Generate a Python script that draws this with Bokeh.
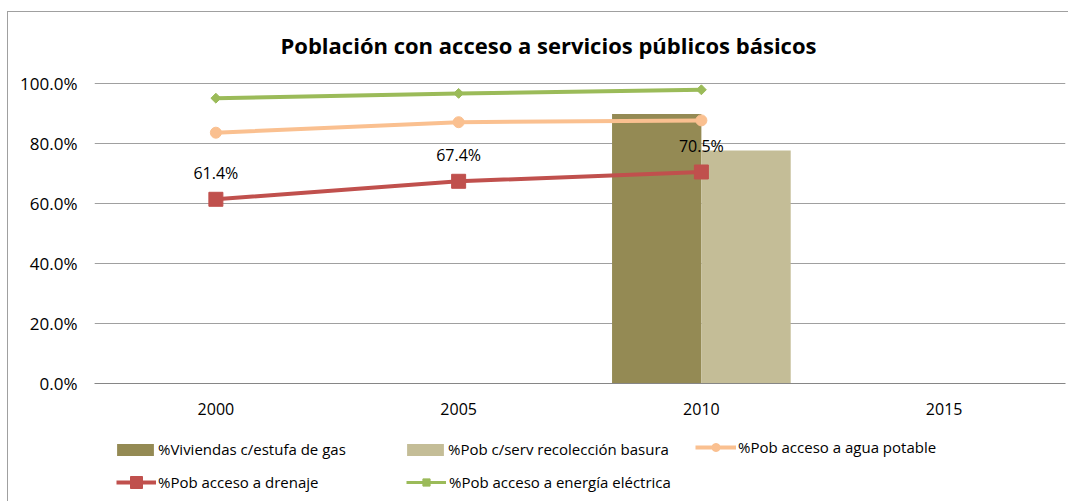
import math
from bokeh.plotting import figure
from bokeh.layouts import column
from bokeh.models import (ColumnDataSource, FactorRange, Range1d, FixedTicker,
                          NumeralTickFormatter, Legend, LegendItem, Title)
from bokeh.transform import dodge
from bokeh.core.properties import value
from bokeh.embed import file_html
from bokeh.resources import INLINE

nan = float("nan")

# ---- data ----
years = ["2000", "2005", "2010", "2015"]
estufa_gas = [nan, nan, 0.898, nan]          # %Viviendas c/estufa de gas
recoleccion_basura = [nan, nan, 0.777, nan]  # %Pob c/serv recolección basura
agua_potable = [0.836, 0.871, 0.877, nan]    # %Pob acceso a agua potable
drenaje = [0.614, 0.674, 0.705, nan]         # %Pob acceso a drenaje
energia_electrica = [0.951, 0.967, 0.979, nan]  # %Pob acceso a energía eléctrica
y_ticks = [0.0, 0.2, 0.4, 0.6, 0.8, 1.0]

names = ["%Viviendas c/estufa de gas", "%Pob c/serv recolección basura",
         "%Pob acceso a agua potable", "%Pob acceso a drenaje",
         "%Pob acceso a energía eléctrica"]
title_text = "Población con acceso a servicios públicos básicos"

drenaje_lbl = ["" if math.isnan(v) else f"{v*100:.1f}%" for v in drenaje]

src = ColumnDataSource(dict(year=years, gas=estufa_gas, basura=recoleccion_basura,
                            agua=agua_potable, dren=drenaje, elec=energia_electrica,
                            lbl=drenaje_lbl))

FONT = "Open Sans"
C_GAS = "#948A54"
C_BAS = "#C4BD97"
C_AGUA = "#FAC090"
C_DREN = "#C0504D"
C_ELEC = "#9BBB59"
GRID = "#a0a0a0"
bw = 0.368
W = 1060


def blank(fig):
    fig.outline_line_color = None
    fig.background_fill_color = "white"
    fig.border_fill_color = "white"


# ---- title strip ----
pt = figure(width=W, height=56, x_range=Range1d(0, 1), y_range=Range1d(0, 1),
            output_backend="svg", toolbar_location=None,
            min_border_left=86, min_border_right=3, min_border_top=0, min_border_bottom=0)
pt.axis.visible = False
pt.grid.visible = False
blank(pt)
pt.add_layout(Title(text=title_text, align="left", text_font=FONT, text_font_size="22px",
                    text_font_style="bold", text_color="#000000", standoff=18,
                    offset=186), "below")

# ---- main chart ----
p = figure(width=W, height=357, x_range=FactorRange(*years), y_range=Range1d(0, 1.0033),
           output_backend="svg", toolbar_location=None,
           min_border_left=86, min_border_right=3, min_border_top=14, min_border_bottom=42)
blank(p)

p.xaxis.axis_line_color = "#868686"
p.xaxis.major_tick_line_color = None
p.xaxis.minor_tick_line_color = None
p.xaxis.major_tick_out = 0
p.xaxis.major_label_standoff = 19
p.xaxis.major_label_text_font = FONT
p.xaxis.major_label_text_font_size = "16px"
p.xaxis.major_label_text_color = "#000000"

p.yaxis.axis_line_color = None
p.yaxis.major_tick_line_color = None
p.yaxis.minor_tick_line_color = None
p.yaxis.major_tick_out = 0
p.yaxis.major_label_standoff = 17
p.yaxis.ticker = FixedTicker(ticks=y_ticks)
p.yaxis.formatter = NumeralTickFormatter(format="0.0%")
p.yaxis.major_label_text_font = FONT
p.yaxis.major_label_text_font_size = "17px"
p.yaxis.major_label_text_color = "#000000"

p.xgrid.grid_line_color = None
p.ygrid.grid_line_color = GRID
p.ygrid.ticker = FixedTicker(ticks=y_ticks)


def draw_series(fig, lw_elec=4):
    r = {}
    r["gas"] = fig.vbar(x=dodge("year", -bw / 2, range=fig.x_range), top="gas", width=bw,
                        source=src, fill_color=C_GAS, line_color=None)
    r["bas"] = fig.vbar(x=dodge("year", bw / 2, range=fig.x_range), top="basura", width=bw,
                        source=src, fill_color=C_BAS, line_color=None)
    r["agua"] = [fig.line("year", "agua", source=src, line_color=C_AGUA, line_width=4),
                 fig.scatter("year", "agua", source=src, marker="circle", size=11,
                             fill_color=C_AGUA, line_color=C_AGUA)]
    r["dren"] = [fig.line("year", "dren", source=src, line_color=C_DREN, line_width=4),
                 fig.scatter("year", "dren", source=src, marker="square", size=14,
                             fill_color=C_DREN, line_color=C_DREN)]
    r["elec"] = [fig.line("year", "elec", source=src, line_color=C_ELEC, line_width=lw_elec),
                 fig.scatter("year", "elec", source=src, marker="square", angle=math.pi / 4,
                             size=7, fill_color=C_ELEC, line_color=C_ELEC)]
    return r


draw_series(p)

p.text(x="year", y="dren", text="lbl", source=src, text_align="center",
       text_baseline="middle", y_offset=-26, text_font=value(FONT),
       text_font_size="16px", text_color="#000000")

# ---- legend strip: same series drawn outside its visible y range, legends only ----
pl = figure(width=W, height=76, x_range=FactorRange(*years), y_range=Range1d(5, 6),
            output_backend="svg", toolbar_location=None,
            min_border_left=86, min_border_right=3, min_border_top=0, min_border_bottom=0)
pl.axis.visible = False
pl.grid.visible = False
blank(pl)

lr = draw_series(pl, lw_elec=3)


def add_legend(label, renderers, loc, gw, gh, standoff):
    lg = Legend(items=[LegendItem(label=label, renderers=renderers)], location=loc,
                orientation="horizontal", padding=0, margin=0, spacing=0,
                glyph_width=gw, glyph_height=gh, label_standoff=standoff,
                label_height=gh, label_text_font=FONT, label_text_font_size="15px",
                label_text_color="#000000", border_line_color=None,
                background_fill_alpha=0)
    pl.add_layout(lg, "center")


add_legend(names[0], [lr["gas"]], (18, 42), 46, 15, 0)
add_legend(names[1], [lr["bas"]], (308, 42), 46, 15, 0)
add_legend(names[2], lr["agua"], (601, 44), 41, 20, 2)
add_legend(names[3], lr["dren"], (22, 4), 40, 30, 2)
add_legend(names[4], lr["elec"], (312, 9), 40, 18, 3)

lay = column(pt, p, pl, spacing=0)
lay.styles = {"margin-top": "11px", "margin-left": "7px",
              "border-left": "1px solid #a0a0a0", "border-top": "1px solid #a0a0a0"}

open("out.html", "w").write(file_html(lay, INLINE))
